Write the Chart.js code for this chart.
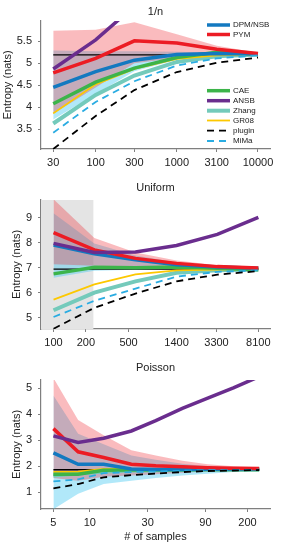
<!DOCTYPE html>
<html>
<head>
<meta charset="utf-8">
<script src="https://cdn.jsdelivr.net/npm/chart.js@4.4.1/dist/chart.umd.min.js"></script>
<style>
body { margin: 0; background: #fff; }
#wrap { position: relative; width: 300px; height: 550px; }
canvas { position: absolute; left: 0; }
</style>
</head>
<body>
<div id="wrap">
<canvas id="c1" width="300" height="175" style="top:0px"></canvas>
<canvas id="c2" width="300" height="180" style="top:175px"></canvas>
<canvas id="c3" width="300" height="195" style="top:355px"></canvas>
</div>
<script>
// ---- panel 1: 1/n ----
var n1 = [30, 100, 300, 1000, 3100, 10000];
var xTicks1 = [30, 100, 300, 1000, 3100, 10000];
var yTicks1 = [3.5, 4, 4.5, 5, 5.5];
var true1 = [5.19, 5.19, 5.19, 5.19, 5.19, 5.19];
var dpm1 = [4.45, 4.81, 5.07, 5.2, 5.22, 5.21];
var pym1 = [4.78, 5.11, 5.51, 5.46, 5.32, 5.22];
var cae1 = [4.08, 4.57, 4.89, 5.13, 5.25, 5.21];
var ansb1 = [4.87, 5.53, 6.3, null, null, null];
var zhang1 = [3.63, 4.28, 4.72, 5.03, 5.16, 5.2];
var gr081 = [3.86, 4.52, 4.87, 5.1, 5.18, 5.2];
var plugin1 = [3.05, 3.8, 4.39, 4.8, 5.01, 5.13];
var mima1 = [3.42, 4.12, 4.59, 4.95, 5.11, 5.18];
var pymHi1 = [5.74, 5.76, 5.93, 5.66, 5.4, 5.24];
var pymLo1 = [3.85, 4.45, 5.0, 5.12, 5.18, 5.2];
var dpmHi1 = [5.29, 5.27, 5.27, 5.26, 5.24, 5.22];
var dpmLo1 = [3.72, 4.3, 4.82, 5.08, 5.17, 5.2];

// ---- panel 2: Uniform ----
var n2 = [100, 240, 580, 1400, 3360, 8100];
var xTicks2 = [100, 200, 500, 1400, 3300, 8100];
var yTicks2 = [5, 6, 7, 8, 9];
var true2 = [6.95, 6.95, 6.95, 6.95, 6.95, 6.95];
var dpm2 = [7.91, 7.56, 7.32, 7.12, 7.03, 6.98];
var pym2 = [8.41, 7.72, 7.38, 7.18, 7.05, 6.99];
var cae2 = [6.76, 7.02, 7.0, 7.03, 6.98, 6.92];
var ansb2 = [7.98, 7.62, 7.64, 7.9, 8.34, 9.02];
var zhang2 = [5.3, 6.01, 6.46, 6.8, 6.9, 6.93];
var gr082 = [5.73, 6.34, 6.74, 6.9, 6.93, 6.95];
var plugin2 = [4.56, 5.4, 5.97, 6.46, 6.73, 6.87];
var mima2 = [5.03, 5.68, 6.17, 6.65, 6.84, 6.9];
var pymHi2 = [9.75, 8.2, 7.62, 7.3, 7.1, 7.0];
var pymLo2 = [7.15, 7.08, 7.03, 6.99, 6.97, 6.96];
var dpmHi2 = [9.19, 7.98, 7.5, 7.22, 7.06, 7.0];
var dpmLo2 = [6.6, 6.88, 6.92, 6.94, 6.95, 6.95];
var shadeEnd2 = 235;

// ---- panel 3: Poisson ----
var n3 = [5, 8, 13, 22, 35, 58, 94, 153, 250];
var xTicks3 = [5, 10, 30, 90, 200];
var yTicks3 = [1, 2, 3, 4, 5];
var true3 = [1.87, 1.87, 1.87, 1.87, 1.87, 1.87, 1.87, 1.87, 1.87];
var dpm3 = [2.52, 2.08, 2.08, 1.9, 1.88, 1.88, 1.89, 1.9, 1.9];
var pym3 = [3.45, 2.56, 2.34, 2.08, 2.02, 1.98, 1.95, 1.93, 1.92];
var cae3 = [1.7, 1.7, 1.85, 1.86, 1.87, 1.87, 1.88, 1.88, 1.88];
var ansb3 = [3.17, 2.92, 3.08, 3.36, 3.76, 4.23, 4.62, 5.02, 5.45];
var zhang3 = [1.65, 1.72, 1.8, 1.84, 1.85, 1.86, 1.87, 1.87, 1.87];
var gr083 = [1.79, 1.8, 1.9, 1.9, 1.9, 1.9, 1.9, 1.9, 1.9];
var plugin3 = [1.15, 1.32, 1.58, 1.66, 1.72, 1.78, 1.82, 1.84, 1.86];
var mima3 = [1.42, 1.5, 1.74, 1.78, 1.8, 1.83, 1.85, 1.86, 1.87];
var pymHi3 = [5.4, 3.78, 3.2, 2.62, 2.42, 2.22, 2.08, 2.0, 1.97];
var pymLo3 = [1.55, 1.45, 1.6, 1.65, 1.7, 1.75, 1.8, 1.82, 1.84];
var dpmHi3 = [4.72, 3.25, 2.85, 2.42, 2.25, 2.1, 2.0, 1.95, 1.93];
var dpmLo3 = [0.35, 0.95, 1.32, 1.45, 1.55, 1.65, 1.72, 1.78, 1.82];

var FONT = "'Liberation Sans', Arial, Helvetica, sans-serif";
var AXIS = "#7f7f7f";

// first listed = drawn on top
var methodOrder = ["ANSB", "plugin", "MiMa", "PYM", "DPM/NSB", "CAE", "GR08", "Zhang"];
var styles = {
	"DPM/NSB": { color: "#1379c0", width: 3.5 },
	"PYM": { color: "#ec1c24", width: 3.5 },
	"CAE": { color: "#3cb44a", width: 3.5 },
	"ANSB": { color: "#6a2d8e", width: 3.5 },
	"Zhang": { color: "#74cabb", width: 4 },
	"GR08": { color: "#fdc800", width: 1.8 },
	"plugin": { color: "#000000", width: 1.8, dash: [7, 5] },
	"MiMa": { color: "#2aace2", width: 1.8, dash: [7, 5] }
};

function series(n, ys) {
	return n.map(function (x, i) { return { x: x, y: ys[i] }; });
}

var shadePlugin = {
	id: "shade",
	beforeDatasetsDraw: function (chart, args, opts) {
		if (!opts.to) return;
		var a = chart.chartArea, ctx = chart.ctx;
		var x2 = chart.scales.x.getPixelForValue(opts.to);
		ctx.save();
		ctx.fillStyle = "#e4e4e4";
		ctx.fillRect(a.left, a.top, x2 - a.left, a.bottom - a.top);
		ctx.restore();
	}
};

var textPlugin = {
	id: "panelText",
	afterDraw: function (chart, args, opts) {
		var a = chart.chartArea, ctx = chart.ctx;
		ctx.save();
		ctx.fillStyle = "#222";
		ctx.font = "11px " + FONT;
		ctx.textAlign = "center";
		ctx.textBaseline = "middle";
		ctx.fillText(opts.title, (a.left + a.right) / 2, opts.titleY);
		if (opts.xTitle) ctx.fillText(opts.xTitle, (a.left + a.right) / 2, opts.xTitleY);
		ctx.translate(opts.yTitleX, (a.top + a.bottom) / 2);
		ctx.rotate(-Math.PI / 2);
		ctx.fillText("Entropy (nats)", 0, 0);
		ctx.restore();

		// legend entries, styled from the datasets
		(opts.legend || []).forEach(function (row) {
			var d = chart.data.datasets.find(function (s) { return s.label === row[0]; });
			ctx.save();
			ctx.strokeStyle = d.borderColor;
			ctx.lineWidth = d.borderWidth;
			ctx.setLineDash(d.borderDash || []);
			ctx.beginPath();
			ctx.moveTo(opts.legendX, row[1]);
			ctx.lineTo(opts.legendX + 23, row[1]);
			ctx.stroke();
			ctx.fillStyle = "#222";
			ctx.font = "8px " + FONT;
			ctx.textBaseline = "middle";
			ctx.fillText(row[0], opts.legendX + 26, row[1]);
			ctx.restore();
		});
	}
};

function makeChart(id, p) {
	var canvas = document.getElementById(id);
	var H = canvas.height;
	var ds = [];
	methodOrder.forEach(function (m) {
		if (!p.lines[m]) return;
		ds.push({
			label: m, data: series(p.n, p.lines[m]),
			borderColor: styles[m].color, borderWidth: styles[m].width,
			borderDash: styles[m].dash || [], pointRadius: 0, fill: false, tension: 0
		});
	});
	ds.push({ label: "true", data: series(p.n, p.truth), borderColor: "#000", borderWidth: 1.3, pointRadius: 0, fill: false });
	ds.push({ label: "PYM hi", data: series(p.n, p.pymBand[0]), borderColor: "rgba(0,0,0,0)", borderWidth: 0, pointRadius: 0, fill: "+1", backgroundColor: "rgba(240,30,40,0.3)" });
	ds.push({ label: "PYM lo", data: series(p.n, p.pymBand[1]), borderColor: "rgba(0,0,0,0)", borderWidth: 0, pointRadius: 0, fill: false });
	ds.push({ label: "DPM hi", data: series(p.n, p.dpmBand[0]), borderColor: "rgba(0,0,0,0)", borderWidth: 0, pointRadius: 0, fill: "+1", backgroundColor: "rgba(70,200,240,0.42)" });
	ds.push({ label: "DPM lo", data: series(p.n, p.dpmBand[1]), borderColor: "rgba(0,0,0,0)", borderWidth: 0, pointRadius: 0, fill: false });

	var tickFont = { family: FONT, size: 11 };
	new Chart(canvas, {
		type: "line",
		data: { datasets: ds },
		plugins: [shadePlugin, textPlugin],
		options: {
			responsive: false,
			animation: false,
			events: [],
			layout: { padding: { top: p.top, left: 0, right: 30, bottom: H - p.bottom - 20 } },
			plugins: {
				legend: { display: false },
				tooltip: { enabled: false },
				shade: { to: p.shadeTo },
				panelText: p.text
			},
			scales: {
				x: {
					type: "logarithmic", min: p.xMin, max: p.xMax,
					afterBuildTicks: function (s) { s.ticks = p.xTicks.map(function (v) { return { value: v }; }); },
					afterFit: function (s) { s.height = 20; },
					grid: { display: true, drawOnChartArea: false, drawTicks: true, tickLength: 3, color: AXIS },
					border: { display: true, color: AXIS, width: 1.2 },
					ticks: { color: "#222", font: tickFont, padding: 4, maxRotation: 0, autoSkip: false,
						callback: function (v) { return String(v); } }
				},
				y: {
					type: "linear", min: p.yMin, max: p.yMax,
					afterBuildTicks: function (s) { s.ticks = p.yTicks.map(function (v) { return { value: v }; }); },
					afterFit: function (s) { s.width = 41; },
					grid: { display: true, drawOnChartArea: false, drawTicks: true, tickLength: 3, color: AXIS },
					border: { display: true, color: AXIS, width: 1.2 },
					ticks: { color: "#222", font: tickFont, padding: 6,
						callback: function (v) { return String(v); } }
				}
			}
		}
	});
}

makeChart("c1", {
	n: n1, xTicks: xTicks1, yTicks: yTicks1, xMin: 21.2, xMax: 14060, yMin: 3.05, yMax: 5.96,
	top: 21, bottom: 149, truth: true1,
	lines: { "DPM/NSB": dpm1, "PYM": pym1, "CAE": cae1, "ANSB": ansb1, "Zhang": zhang1, "GR08": gr081, "plugin": plugin1, "MiMa": mima1 },
	pymBand: [pymHi1, pymLo1], dpmBand: [dpmHi1, dpmLo1],
	text: {
		title: "1/n", titleY: 12, yTitleX: 8,
		legendX: 207,
		legend: [["DPM/NSB", 25], ["PYM", 34.5], ["CAE", 90.7], ["ANSB", 100.7], ["Zhang", 110.7], ["GR08", 120.5], ["plugin", 130.7], ["MiMa", 141]]
	}
});

makeChart("c2", {
	n: n2, xTicks: xTicks2, yTicks: yTicks2, xMin: 76.4, xMax: 10400, yMin: 4.55, yMax: 9.72,
	top: 25, bottom: 154, truth: true2, shadeTo: shadeEnd2,
	lines: { "DPM/NSB": dpm2, "PYM": pym2, "CAE": cae2, "ANSB": ansb2, "Zhang": zhang2, "GR08": gr082, "plugin": plugin2, "MiMa": mima2 },
	pymBand: [pymHi2, pymLo2], dpmBand: [dpmHi2, dpmLo2],
	text: { title: "Uniform", titleY: 13.3, yTitleX: 16.7 }
});

makeChart("c3", {
	n: n3, xTicks: xTicks3, yTicks: yTicks3, xMin: 3.95, xMax: 307, yMin: 0.36, yMax: 5.32,
	top: 25, bottom: 154, truth: true3,
	lines: { "DPM/NSB": dpm3, "PYM": pym3, "CAE": cae3, "ANSB": ansb3, "Zhang": zhang3, "GR08": gr083, "plugin": plugin3, "MiMa": mima3 },
	pymBand: [pymHi3, pymLo3], dpmBand: [dpmHi3, dpmLo3],
	text: { title: "Poisson", titleY: 13.3, yTitleX: 16.7, xTitle: "# of samples", xTitleY: 182 }
});
</script>
</body>
</html>
